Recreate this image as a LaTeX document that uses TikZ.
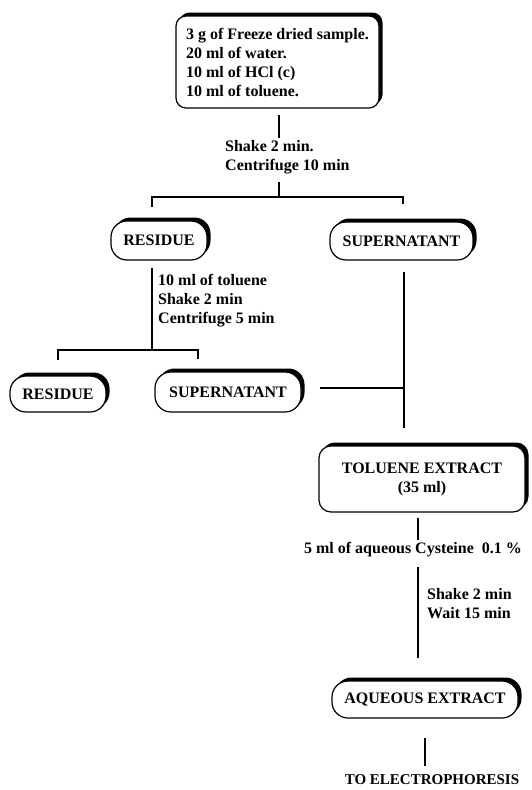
\documentclass[tikz,border=0pt]{standalone}
\usepackage{fontspec}
\setmainfont{Liberation Serif}
\usetikzlibrary{shadows}

\tikzset{
  txt/.style={font=\bfseries\fontsize{16}{19}\selectfont},
  stage/.style={txt, draw, line width=1.2pt, fill=white, rounded corners=#1,
    inner sep=0pt, align=center,
    general shadow={fill=black, shadow xshift=3.5pt, shadow yshift=3.5pt}},
  note/.style={txt, inner sep=0pt, align=left},
  link/.style={line width=2pt, line join=miter, line cap=butt}
}

\begin{document}
\begin{tikzpicture}[x=1pt, y=-1pt]
  \useasboundingbox (0,0) rectangle (531,790);

  % stages
  \node[stage=10pt, minimum width=203pt, minimum height=92pt, align=left] (src) at (277.5,62)
    {3 g of Freeze dried sample.\\20 ml of water.\\10 ml of HCl (c)\\10 ml of toluene.};
  \node[stage=16pt, minimum width=96pt, minimum height=39pt] (res1) at (159,240.5) {RESIDUE};
  \node[stage=16pt, minimum width=143pt, minimum height=38pt] (sup1) at (401.5,241) {SUPERNATANT};
  \node[stage=16pt, minimum width=96pt, minimum height=36pt] (res2) at (58,394) {RESIDUE};
  \node[stage=16pt, minimum width=146pt, minimum height=40pt] (sup2) at (228,392) {SUPERNATANT};
  \node[stage=12pt, minimum width=206pt, minimum height=66pt] (tol) at (422,479)
    {TOLUENE EXTRACT\\(35 ml)};
  \node[stage=16pt, minimum width=186pt, minimum height=37pt] (aq) at (425,699.5) {AQUEOUS EXTRACT};

  % operations
  \node[note, anchor=west] (op1) at (225,157) {Shake 2 min.\\Centrifuge 10 min};
  \node[note, anchor=west] (op2) at (158,301) {10 ml of toluene\\Shake 2 min\\Centrifuge 5 min};
  \node[note] (op3) at (413,550) {5 ml of aqueous Cysteine~~0.1 \%};
  \node[note, anchor=west] (op4) at (427,604) {Shake 2 min\\Wait 15 min};
  \node[note, font=\bfseries\fontsize{15}{18}\selectfont] (out) at (432,780) {TO ELECTROPHORESIS};

  % junction points of the connectors
  \coordinate (s1a) at (279,115);  \coordinate (s1b) at (279,138);
  \coordinate (s2a) at (279,182);  \coordinate (s2b) at (279,197);
  \coordinate (bl1) at (152,207);  \coordinate (br1) at (403,204);
  \coordinate (r1a) at (152,268);  \coordinate (r1b) at (152,350);
  \coordinate (bl2) at (58,360);   \coordinate (br2) at (198,359);
  \coordinate (v1a) at (404,272);  \coordinate (v1b) at (404,428);
  \coordinate (h1a) at (320,388);  \coordinate (h1b) at (404,388);
  \coordinate (t1a) at (418,518);  \coordinate (t1b) at (418,540);
  \coordinate (t2a) at (418,567);  \coordinate (t2b) at (418,658);
  \coordinate (e1a) at (425,738);  \coordinate (e1b) at (425,766);

  % connectors
  \draw[link] (s1a) -- (s1b);
  \draw[link] (s2a) -- (s2b);
  \draw[link] (bl1) |- (s2b) -| (br1);
  \draw[link] (r1a) -- (r1b);
  \draw[link] (bl2) |- (r1b) -| (br2);
  \draw[link] (v1a) -- (v1b);
  \draw[link] (h1a) -- (h1b);
  \draw[link] (t1a) -- (t1b);
  \draw[link] (t2a) -- (t2b);
  \draw[link] (e1a) -- (e1b);
\end{tikzpicture}
\end{document}
